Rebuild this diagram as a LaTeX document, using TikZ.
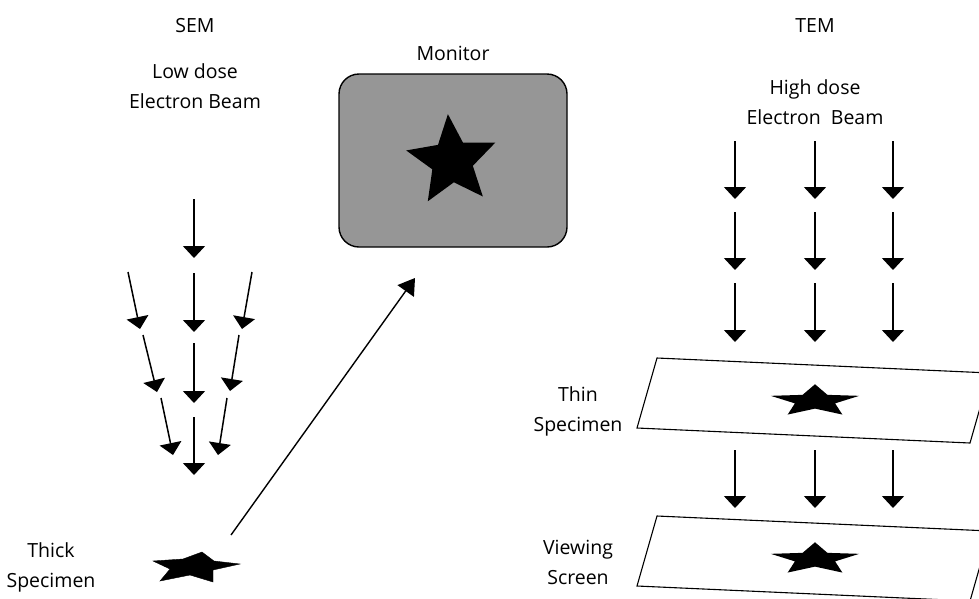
\documentclass[tikz,border=0pt]{standalone}
\usepackage{fontspec}
\setmainfont{Open Sans}
\usetikzlibrary{arrows.meta,shapes.geometric}
\definecolor{screengray}{RGB}{150,150,150}

\begin{document}
\begin{tikzpicture}[x=1pt,y=1pt,yscale=-1,xscale=1,
  beam/.style={line width=1.5pt,-{Triangle[width=22pt,length=12pt]}},
  signal/.style={line width=1.4pt,-{Triangle[width=20pt,length=16pt]}},
  lbl/.style={align=center,font=\fontsize{19.5}{30}\selectfont,inner sep=0pt},
  starfill/.style={star,star points=5,star point ratio=2.2,fill=black,inner sep=0pt,minimum size=#1},
  slab/.style={line width=1.1pt}]
\clip (0,0) rectangle (979,598);

% Text Node
\node[lbl] (sem) at (195,26) {SEM};
% Text Node
\node[lbl] (tem) at (815,26) {TEM};
% Text Node
\node[lbl] (lowdose) at (195,86) {Low dose\\Electron Beam};
% Text Node
\node[lbl] (highdose) at (815,102) {High dose\\Electron\ \ Beam};
% Text Node
\node[lbl] (montext) at (453,53) {Monitor};
% Text Node
\node[lbl] (thick) at (51,567) {Thick\\Specimen};
% Text Node
\node[lbl] (thin) at (578,411) {Thin\\Specimen};
% Text Node
\node[lbl] (viewing) at (578,562) {Viewing\\Screen};

%Shape: Monitor
\node[draw,line width=1.4pt,fill=screengray,rounded corners=20pt,minimum width=228pt,minimum height=173pt] (monitor) at (453,160.5) {};
\node[starfill=94pt,rotate=5] (monstar) at (452,161) {};

%SEM beam, middle column
\foreach \ya/\yb in {199/258,273/332,343/403,417/475}{
  \coordinate (sa) at (194,\ya);
  \coordinate (sb) at (194,\yb);
  \draw[beam] (sa) -- (sb);
}
%SEM beam, spreading columns
\foreach \xa/\ya/\xb/\yb in {128/272/140/329,143/335/157/392,161/398/173/455,
                             252/272/242/329,239/335/230/391,227/398/218/455}{
  \coordinate (sa) at (\xa,\ya);
  \coordinate (sb) at (\xb,\yb);
  \draw[beam] (sa) -- (sb);
}

%Shape: thick specimen star
\draw[fill=black] (202,552) -- (214,561) -- (240,564) -- (213,570) -- (213,582)
  -- (190,575) -- (160,581) -- (170,569) -- (153,561) -- (183,559) -- cycle;

%Straight Lines: signal to monitor
\coordinate (sigstart) at (231,535);
\coordinate (sigend) at (415,278);
\draw[signal] (sigstart) -- (sigend);

%TEM beam
\foreach \x in {735,815,893}{
  \foreach \ya/\yb in {141/199,212/270,283/342,450/508}{
    \coordinate (ta) at (\x,\ya);
    \coordinate (tb) at (\x,\yb);
    \draw[beam] (ta) -- (tb);
  }
}

%Shape: thin specimen
\draw[slab] (657,358) -- (990,373) -- (970,443) -- (637,428) -- cycle;
\begin{scope}[shift={(815,401)},yscale=-0.36]
  \node[starfill=93pt,transform shape] (thinstar) at (0,0) {};
\end{scope}

%Shape: viewing screen
\draw[slab] (657,516) -- (990,531) -- (970,601) -- (637,586) -- cycle;
\begin{scope}[shift={(815,559)},yscale=-0.36]
  \node[starfill=93pt,transform shape] (screenstar) at (0,0) {};
\end{scope}

\end{tikzpicture}
\end{document}
